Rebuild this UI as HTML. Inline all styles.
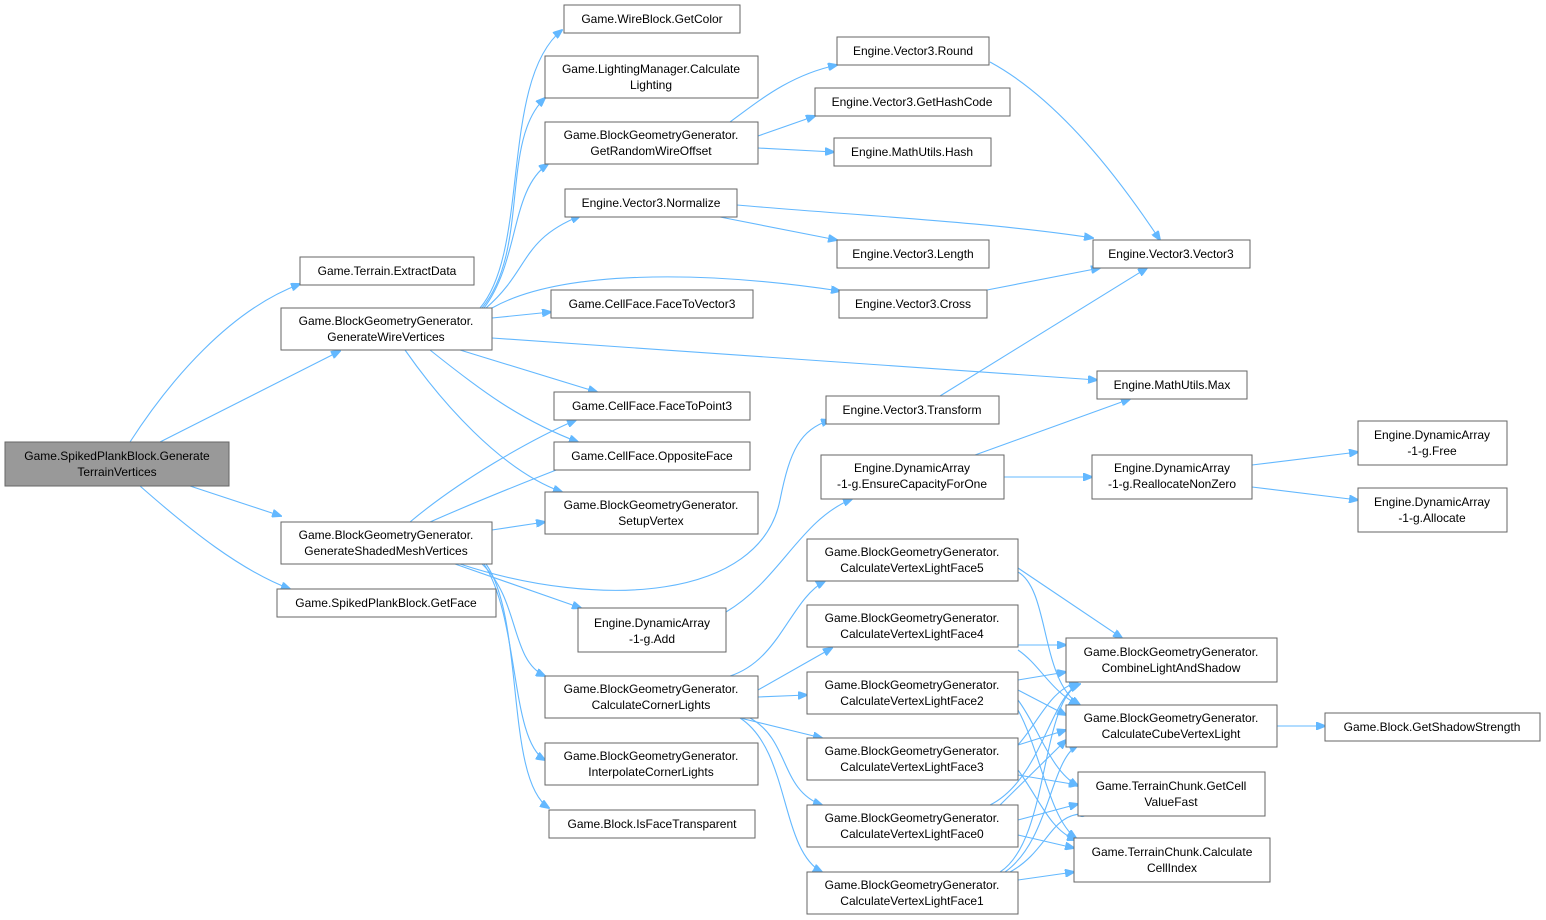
<!DOCTYPE html>
<html><head><meta charset="utf-8"><style>
html,body{margin:0;padding:0;background:#fff;}
svg{display:block;}
text{font-family:"Liberation Sans",Arial,sans-serif;font-size:12px;fill:#000;}
rect{fill:#fff;stroke:#666;stroke-width:1;}
path{fill:none;stroke:#63b8ff;stroke-width:1.1;}
</style></head><body>
<svg width="1546" height="920" viewBox="0 0 1546 920" xmlns="http://www.w3.org/2000/svg">
<defs><marker id="a" markerWidth="10" markerHeight="8" refX="9" refY="4" orient="auto" markerUnits="userSpaceOnUse"><path d="M0,0 L10,4 L0,8 Z" style="fill:#63b8ff;stroke:#63b8ff"/></marker></defs>
<g marker-end="url(#a)">
<path d="M130,442 C170,380 230,310 300,284"/>
<path d="M160,442 L340,351"/>
<path d="M190,486 L281,516"/>
<path d="M140,486 C190,530 240,570 290,589"/>
<path d="M480,308 C530,250 500,80 562,30"/>
<path d="M482,308 C530,250 500,140 545,98"/>
<path d="M484,308 C520,260 510,190 548,164"/>
<path d="M486,308 C530,270 520,240 580,216"/>
<path d="M492,318 L551,312"/>
<path d="M460,350 L597,392"/>
<path d="M430,350 C480,390 520,420 578,442"/>
<path d="M405,350 C440,400 500,470 562,492"/>
<path d="M492,308 C560,270 700,270 840,291"/>
<path d="M492,338 L1097,380"/>
<path d="M410,522 C460,480 530,440 576,420"/>
<path d="M430,522 C480,500 530,480 582,460"/>
<path d="M492,530 L545,522"/>
<path d="M460,564 C600,610 760,600 780,500 C790,450 800,430 830,420"/>
<path d="M455,564 L581,608"/>
<path d="M482,564 C520,600 510,660 545,676"/>
<path d="M484,564 C520,620 510,740 545,760"/>
<path d="M486,564 C525,620 505,780 549,808"/>
<path d="M730,122 C760,100 790,75 837,65"/>
<path d="M758,136 L815,116"/>
<path d="M758,148 L834,152"/>
<path d="M737,205 C850,215 990,222 1093,238"/>
<path d="M720,217 L837,240"/>
<path d="M990,62 C1060,100 1120,180 1160,240"/>
<path d="M987,290 L1100,268"/>
<path d="M940,396 L1147,268"/>
<path d="M975,455 L1130,399"/>
<path d="M1004,477 L1092,477"/>
<path d="M1252,465 L1358,452"/>
<path d="M1252,487 L1358,500"/>
<path d="M726,612 C780,580 800,520 852,499"/>
<path d="M730,676 C780,660 790,600 825,581"/>
<path d="M758,690 L832,648"/>
<path d="M758,697 L807,695"/>
<path d="M740,718 L822,738"/>
<path d="M750,718 C790,740 780,790 822,805"/>
<path d="M740,718 C790,750 780,850 822,872"/>
<path d="M1018,568 L1122,638"/>
<path d="M1018,572 C1050,590 1040,680 1080,705"/>
<path d="M1018,645 L1066,645"/>
<path d="M1018,650 C1040,665 1050,690 1078,705"/>
<path d="M1018,680 L1066,672"/>
<path d="M1018,690 L1066,715"/>
<path d="M1018,700 C1040,730 1050,770 1078,786"/>
<path d="M1018,710 C1040,750 1050,820 1076,838"/>
<path d="M1018,745 C1040,720 1050,690 1078,682"/>
<path d="M1018,745 L1066,730"/>
<path d="M1018,775 L1078,785"/>
<path d="M1018,770 C1040,800 1050,830 1076,840"/>
<path d="M990,805 C1040,780 1050,700 1078,684"/>
<path d="M1000,805 L1066,740"/>
<path d="M1018,820 L1078,804"/>
<path d="M1018,835 L1074,848"/>
<path d="M1000,872 C1050,840 1040,700 1080,684"/>
<path d="M1005,872 C1050,840 1050,760 1078,745"/>
<path d="M1010,872 C1050,850 1050,810 1090,814"/>
<path d="M1018,880 L1074,872"/>
<path d="M1277,726 L1325,726"/>
</g>
<rect x="5" y="442" width="224" height="44" style="fill:#999"/>
<text x="117" y="460" text-anchor="middle">Game.SpikedPlankBlock.Generate</text><text x="117" y="476" text-anchor="middle">TerrainVertices</text>
<rect x="300" y="257" width="174" height="28"/><text x="387" y="275" text-anchor="middle">Game.Terrain.ExtractData</text>
<rect x="281" y="308" width="211" height="42"/><text x="386" y="325" text-anchor="middle">Game.BlockGeometryGenerator.</text><text x="386" y="341" text-anchor="middle">GenerateWireVertices</text>
<rect x="281" y="522" width="211" height="42"/><text x="386" y="539" text-anchor="middle">Game.BlockGeometryGenerator.</text><text x="386" y="555" text-anchor="middle">GenerateShadedMeshVertices</text>
<rect x="277" y="589" width="219" height="28"/><text x="386" y="607" text-anchor="middle">Game.SpikedPlankBlock.GetFace</text>
<rect x="564" y="5" width="176" height="28"/><text x="652" y="23" text-anchor="middle">Game.WireBlock.GetColor</text>
<rect x="545" y="56" width="213" height="42"/><text x="651" y="73" text-anchor="middle">Game.LightingManager.Calculate</text><text x="651" y="89" text-anchor="middle">Lighting</text>
<rect x="545" y="122" width="213" height="42"/><text x="651" y="139" text-anchor="middle">Game.BlockGeometryGenerator.</text><text x="651" y="155" text-anchor="middle">GetRandomWireOffset</text>
<rect x="565" y="189" width="172" height="28"/><text x="651" y="207" text-anchor="middle">Engine.Vector3.Normalize</text>
<rect x="551" y="290" width="202" height="28"/><text x="652" y="308" text-anchor="middle">Game.CellFace.FaceToVector3</text>
<rect x="554" y="392" width="196" height="28"/><text x="652" y="410" text-anchor="middle">Game.CellFace.FaceToPoint3</text>
<rect x="554" y="442" width="196" height="28"/><text x="652" y="460" text-anchor="middle">Game.CellFace.OppositeFace</text>
<rect x="545" y="492" width="213" height="42"/><text x="651" y="509" text-anchor="middle">Game.BlockGeometryGenerator.</text><text x="651" y="525" text-anchor="middle">SetupVertex</text>
<rect x="578" y="608" width="148" height="44"/><text x="652" y="627" text-anchor="middle">Engine.DynamicArray</text><text x="652" y="643" text-anchor="middle">-1-g.Add</text>
<rect x="545" y="676" width="213" height="42"/><text x="651" y="693" text-anchor="middle">Game.BlockGeometryGenerator.</text><text x="651" y="709" text-anchor="middle">CalculateCornerLights</text>
<rect x="545" y="743" width="213" height="42"/><text x="651" y="760" text-anchor="middle">Game.BlockGeometryGenerator.</text><text x="651" y="776" text-anchor="middle">InterpolateCornerLights</text>
<rect x="549" y="810" width="206" height="28"/><text x="652" y="828" text-anchor="middle">Game.Block.IsFaceTransparent</text>
<rect x="837" y="37" width="152" height="28"/><text x="913" y="55" text-anchor="middle">Engine.Vector3.Round</text>
<rect x="815" y="88" width="195" height="28"/><text x="912" y="106" text-anchor="middle">Engine.Vector3.GetHashCode</text>
<rect x="834" y="138" width="157" height="28"/><text x="912" y="156" text-anchor="middle">Engine.MathUtils.Hash</text>
<rect x="837" y="240" width="152" height="28"/><text x="913" y="258" text-anchor="middle">Engine.Vector3.Length</text>
<rect x="839" y="290" width="148" height="28"/><text x="913" y="308" text-anchor="middle">Engine.Vector3.Cross</text>
<rect x="826" y="396" width="173" height="28"/><text x="912" y="414" text-anchor="middle">Engine.Vector3.Transform</text>
<rect x="821" y="455" width="183" height="44"/><text x="912" y="472" text-anchor="middle">Engine.DynamicArray</text><text x="912" y="488" text-anchor="middle">-1-g.EnsureCapacityForOne</text>
<rect x="807" y="539" width="211" height="42"/><text x="912" y="556" text-anchor="middle">Game.BlockGeometryGenerator.</text><text x="912" y="572" text-anchor="middle">CalculateVertexLightFace5</text>
<rect x="807" y="605" width="211" height="42"/><text x="912" y="622" text-anchor="middle">Game.BlockGeometryGenerator.</text><text x="912" y="638" text-anchor="middle">CalculateVertexLightFace4</text>
<rect x="807" y="672" width="211" height="42"/><text x="912" y="689" text-anchor="middle">Game.BlockGeometryGenerator.</text><text x="912" y="705" text-anchor="middle">CalculateVertexLightFace2</text>
<rect x="807" y="738" width="211" height="42"/><text x="912" y="755" text-anchor="middle">Game.BlockGeometryGenerator.</text><text x="912" y="771" text-anchor="middle">CalculateVertexLightFace3</text>
<rect x="807" y="805" width="211" height="42"/><text x="912" y="822" text-anchor="middle">Game.BlockGeometryGenerator.</text><text x="912" y="838" text-anchor="middle">CalculateVertexLightFace0</text>
<rect x="807" y="872" width="211" height="42"/><text x="912" y="889" text-anchor="middle">Game.BlockGeometryGenerator.</text><text x="912" y="905" text-anchor="middle">CalculateVertexLightFace1</text>
<rect x="1093" y="240" width="157" height="28"/><text x="1171" y="258" text-anchor="middle">Engine.Vector3.Vector3</text>
<rect x="1097" y="371" width="150" height="28"/><text x="1172" y="389" text-anchor="middle">Engine.MathUtils.Max</text>
<rect x="1092" y="455" width="160" height="44"/><text x="1172" y="472" text-anchor="middle">Engine.DynamicArray</text><text x="1172" y="488" text-anchor="middle">-1-g.ReallocateNonZero</text>
<rect x="1066" y="638" width="211" height="44"/><text x="1171" y="656" text-anchor="middle">Game.BlockGeometryGenerator.</text><text x="1171" y="672" text-anchor="middle">CombineLightAndShadow</text>
<rect x="1066" y="705" width="211" height="42"/><text x="1171" y="722" text-anchor="middle">Game.BlockGeometryGenerator.</text><text x="1171" y="738" text-anchor="middle">CalculateCubeVertexLight</text>
<rect x="1078" y="772" width="187" height="44"/><text x="1171" y="790" text-anchor="middle">Game.TerrainChunk.GetCell</text><text x="1171" y="806" text-anchor="middle">ValueFast</text>
<rect x="1074" y="838" width="196" height="44"/><text x="1172" y="856" text-anchor="middle">Game.TerrainChunk.Calculate</text><text x="1172" y="872" text-anchor="middle">CellIndex</text>
<rect x="1358" y="421" width="149" height="44"/><text x="1432" y="439" text-anchor="middle">Engine.DynamicArray</text><text x="1432" y="455" text-anchor="middle">-1-g.Free</text>
<rect x="1358" y="488" width="149" height="44"/><text x="1432" y="506" text-anchor="middle">Engine.DynamicArray</text><text x="1432" y="522" text-anchor="middle">-1-g.Allocate</text>
<rect x="1325" y="713" width="215" height="28"/><text x="1432" y="731" text-anchor="middle">Game.Block.GetShadowStrength</text>
</svg>
</body></html>
